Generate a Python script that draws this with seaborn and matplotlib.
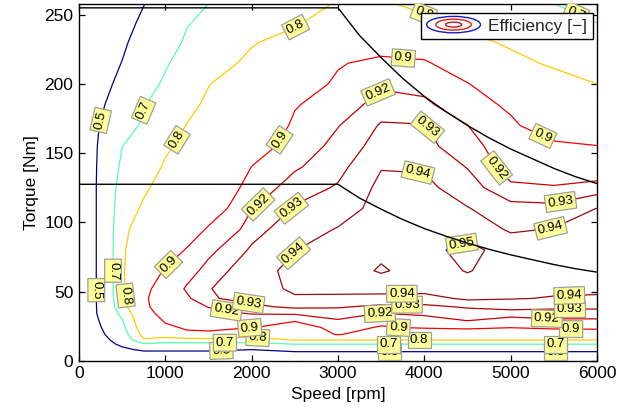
import numpy as np
import matplotlib
matplotlib.use("Agg")
import matplotlib.pyplot as plt
import seaborn as sns
from matplotlib.legend_handler import HandlerBase
from matplotlib.patches import Ellipse

speed_rpm = [0, 150, 300, 500, 750, 1000, 1250, 1500, 2000, 2500, 3000, 3500, 4000, 4500, 5000, 5500, 6000]
torque_nm = [0, 4, 8, 12, 15, 19, 24, 29, 34, 39, 45, 52, 65, 80, 95, 110, 125, 140, 155, 170, 185, 200, 215, 230, 245, 258]

# efficiency columns, one per speed, values at the torque rows above
eff_0000 = [0.0, 0.0, 0.0, 0.0, 0.0, 0.0, 0.0, 0.0, 0.0, 0.0, 0.0, 0.0, 0.0, 0.0, 0.0, 0.0, 0.0, 0.0, 0.0, 0.0, 0.0, 0.0, 0.0, 0.0, 0.0, 0.0]
eff_0150 = [0.0, 0.10, 0.20, 0.26, 0.30, 0.35, 0.39, 0.42, 0.44, 0.44, 0.44, 0.44, 0.44, 0.44, 0.44, 0.44, 0.44, 0.435, 0.43, 0.42, 0.41, 0.40, 0.38, 0.37, 0.36, 0.35]
eff_0300 = [0.0, 0.20, 0.30, 0.40, 0.45, 0.50, 0.54, 0.57, 0.60, 0.61, 0.62, 0.62, 0.62, 0.62, 0.62, 0.62, 0.62, 0.615, 0.60, 0.56, 0.50, 0.46, 0.43, 0.40, 0.38, 0.36]
eff_0500 = [0.0, 0.25, 0.44, 0.56, 0.62, 0.65, 0.675, 0.695, 0.73, 0.77, 0.78, 0.787, 0.79, 0.788, 0.78, 0.765, 0.745, 0.72, 0.699, 0.655, 0.60, 0.55, 0.505, 0.47, 0.44, 0.42]
eff_0750 = [0.0, 0.35, 0.55, 0.69, 0.79, 0.83, 0.86, 0.88, 0.892, 0.896, 0.897, 0.894, 0.88, 0.86, 0.84, 0.81, 0.79, 0.765, 0.74, 0.715, 0.695, 0.66, 0.62, 0.58, 0.53, 0.495]
eff_1000 = [0.0, 0.35, 0.55, 0.67, 0.76, 0.85, 0.895, 0.903, 0.907, 0.91, 0.911, 0.911, 0.903, 0.885, 0.865, 0.845, 0.825, 0.808, 0.79, 0.765, 0.74, 0.715, 0.69, 0.655, 0.615, 0.58]
eff_1250 = [0.0, 0.35, 0.55, 0.67, 0.76, 0.895, 0.903, 0.906, 0.91, 0.914, 0.918, 0.9215, 0.915, 0.902, 0.885, 0.865, 0.85, 0.833, 0.818, 0.802, 0.785, 0.765, 0.74, 0.715, 0.693, 0.675]
eff_1500 = [0.0, 0.35, 0.55, 0.67, 0.77, 0.895, 0.905, 0.911, 0.916, 0.9205, 0.929, 0.9295, 0.924, 0.917, 0.903, 0.885, 0.868, 0.852, 0.838, 0.824, 0.81, 0.798, 0.77, 0.745, 0.72, 0.70]
eff_2000 = [0.0, 0.30, 0.50, 0.66, 0.77, 0.83, 0.902, 0.912, 0.9205, 0.928, 0.933, 0.936, 0.937, 0.9315, 0.926, 0.9195, 0.912, 0.9005, 0.885, 0.87, 0.855, 0.838, 0.815, 0.795, 0.77, 0.75]
eff_2500 = [0.0, 0.33, 0.60, 0.702, 0.802, 0.845, 0.88, 0.903, 0.922, 0.932, 0.939, 0.9415, 0.942, 0.9398, 0.936, 0.931, 0.9255, 0.9185, 0.912, 0.905, 0.898, 0.88, 0.855, 0.825, 0.79, 0.77]
eff_3000 = [0.0, 0.33, 0.60, 0.702, 0.802, 0.905, 0.913, 0.919, 0.925, 0.931, 0.9385, 0.942, 0.945, 0.944, 0.9405, 0.936, 0.931, 0.927, 0.924, 0.9195, 0.913, 0.906, 0.897, 0.87, 0.835, 0.805]
eff_3500 = [0.0, 0.33, 0.60, 0.702, 0.802, 0.86, 0.897, 0.91, 0.9195, 0.928, 0.9365, 0.944, 0.951, 0.948, 0.946, 0.943, 0.9425, 0.9395, 0.934, 0.931, 0.925, 0.918, 0.91, 0.88, 0.84, 0.81]
eff_4000 = [0.0, 0.33, 0.60, 0.702, 0.802, 0.865, 0.904, 0.915, 0.922, 0.928, 0.936, 0.944, 0.946, 0.948, 0.947, 0.945, 0.9425, 0.939, 0.9325, 0.9305, 0.9225, 0.916, 0.906, 0.87, 0.815, 0.78]
eff_4500 = [0.0, 0.33, 0.60, 0.702, 0.802, 0.87, 0.908, 0.9202, 0.926, 0.931, 0.942, 0.946, 0.9505, 0.952, 0.947, 0.9405, 0.935, 0.9295, 0.925, 0.9202, 0.912, 0.902, 0.87, 0.82, 0.78, 0.76]
eff_5000 = [0.0, 0.33, 0.60, 0.702, 0.802, 0.865, 0.901, 0.915, 0.925, 0.934, 0.9405, 0.943, 0.946, 0.947, 0.9385, 0.934, 0.922, 0.915, 0.912, 0.905, 0.895, 0.865, 0.82, 0.79, 0.77, 0.75]
eff_5500 = [0.0, 0.33, 0.60, 0.702, 0.802, 0.87, 0.908, 0.918, 0.926, 0.932, 0.9395, 0.9415, 0.943, 0.943, 0.9405, 0.933, 0.921, 0.912, 0.906, 0.882, 0.855, 0.83, 0.79, 0.76, 0.728, 0.70]
eff_6000 = [0.0, 0.33, 0.60, 0.702, 0.802, 0.87, 0.91, 0.918, 0.926, 0.932, 0.939, 0.9415, 0.943, 0.944, 0.943, 0.9402, 0.925, 0.91, 0.901, 0.87, 0.84, 0.80, 0.77, 0.735, 0.698, 0.67]

eff_levels = [0.5, 0.7, 0.8, 0.9, 0.92, 0.93, 0.94, 0.95]

# torque limit curves (peak and continuous)
limit_speed = [0, 3000, 3250, 3500, 3750, 4000, 4250, 4500, 4750, 5000, 5250, 5500, 5750, 6000]
peak_torque = [255, 255, 235, 219, 204, 191, 180, 170, 161, 153, 146, 139, 133, 128]
cont_torque = [127.5, 127.5, 117.5, 109.5, 102, 95.5, 90, 85, 80.5, 76.5, 73, 69.5, 66.5, 64]

# MATLAB-jet style colours for each level
level_colors = {
    0.5: (0.0, 0.0, 0.55),
    0.7: (0.33, 1.0, 0.70),
    0.8: (1.0, 0.80, 0.0),
    0.9: (0.96, 0.0, 0.0),
    0.92: (0.80, 0.0, 0.0),
    0.93: (0.70, 0.0, 0.0),
    0.94: (0.62, 0.04, 0.04),
    0.95: (0.55, 0.04, 0.04),
}

# ---------------- styling ----------------
sns.set_theme(style="white")
plt.rcParams["font.family"] = ["Liberation Sans", "DejaVu Sans"]
plt.rcParams.update({
    "axes.edgecolor": "black",
    "axes.linewidth": 1.0,
    "xtick.direction": "in",
    "ytick.direction": "in",
    "xtick.top": True,
    "ytick.right": True,
    "xtick.bottom": True,
    "ytick.left": True,
    "xtick.color": "black",
    "ytick.color": "black",
    "xtick.major.size": 4,
    "ytick.major.size": 4,
    "xtick.major.width": 0.9,
    "ytick.major.width": 0.9,
    "xtick.major.pad": 4,
    "ytick.major.pad": 4,
    "axes.labelcolor": "black",
})

fig = plt.figure(figsize=(6.44, 4.16), dpi=100)
ax = fig.add_axes([79 / 644, (416 - 360.7) / 416, 518 / 644, 357 / 416])

Z = np.column_stack([eff_0000, eff_0150, eff_0300, eff_0500, eff_0750, eff_1000, eff_1250,
                     eff_1500, eff_2000, eff_2500, eff_3000, eff_3500, eff_4000, eff_4500,
                     eff_5000, eff_5500, eff_6000])

# contour label placement (approximate spots from the reference)
label_spots = {
    0.5: [(230, 174), (200, 51), (1650, 6), (3600, 6), (5520, 6)],
    0.7: [(700, 182), (395, 65), (1690, 12), (3590, 12), (5520, 12), (5750, 250)],
    0.8: [(1100, 161), (520, 47), (2480, 244), (4000, 252), (2070, 16), (3940, 15)],
    0.9: [(2290, 161), (1030, 70), (3760, 221), (5340, 158), (1980, 22), (3700, 24), (5700, 22)],
    0.92: [(3490, 192), (2060, 114), (4800, 137), (1700, 33), (3490, 31), (5420, 30)],
    0.93: [(3990, 167), (2480, 109), (5570, 117), (1960, 40), (3800, 40), (5680, 37)],
    0.94: [(3930, 140), (2480, 78), (5460, 97), (3740, 47), (5680, 47)],
    0.95: [(4450, 82)],
}

all_texts = []
for lev in eff_levels:
    cs = ax.contour(speed_rpm, torque_nm, Z, levels=[lev], colors=[level_colors[lev]],
                    linewidths=0.9)
    texts = ax.clabel(cs, manual=label_spots[lev], inline=False, fmt="%g",
                      fontsize=9.5, colors="black")
    all_texts.extend(texts)
for t in all_texts:
    t.set_bbox(dict(boxstyle="square,pad=0.18", facecolor=(1, 1, 0.6),
                    edgecolor=(0.62, 0.62, 0.62), linewidth=0.9))
    t.set_clip_on(True)

sns.lineplot(x=limit_speed, y=peak_torque, color="black", linewidth=1.0, ax=ax,
             sort=False, estimator=None, zorder=4.5)
sns.lineplot(x=limit_speed, y=cont_torque, color="black", linewidth=1.0, ax=ax,
             sort=False, estimator=None, zorder=4.5)

ax.set_xlim(0, 6000)
ax.set_ylim(0, 258)
ax.set_xticks([0, 1000, 2000, 3000, 4000, 5000, 6000])
ax.set_yticks([0, 50, 100, 150, 200, 250])
ax.tick_params(labelsize=12.5)
ax.set_xlabel("Speed [rpm]", fontsize=12.5, labelpad=4)
ax.set_ylabel("Torque [Nm]", fontsize=12.5, labelpad=4)


class ContourProxy:
    pass


class ContourIconHandler(HandlerBase):
    def create_artists(self, legend, orig_handle, xdescent, ydescent, width, height,
                       fontsize, trans):
        cx = width / 2 - xdescent
        cy = height / 2 - ydescent
        arts = []
        for frac, col in [(1.0, (0.1, 0.1, 0.75)), (0.66, (0.92, 0.1, 0.1)), (0.3, (0.75, 0.1, 0.1))]:
            e = Ellipse((cx, cy), width * frac, height * 1.35 * frac, fill=False,
                        edgecolor=col, linewidth=1.0, transform=trans)
            arts.append(e)
        return arts


leg = ax.legend([ContourProxy()], ["Efficiency [\u2212]"],
                handler_map={ContourProxy: ContourIconHandler()},
                loc="upper right", bbox_to_anchor=(0.992, 0.974), borderaxespad=0,
                fontsize=12.5, frameon=True, fancybox=False, shadow=False,
                handlelength=3.1, handletextpad=0.45, borderpad=0.32, framealpha=1)
leg.get_frame().set_edgecolor("black")
leg.get_frame().set_linewidth(1.0)
leg.set_zorder(10)

fig.savefig("out.png", dpi=100)
